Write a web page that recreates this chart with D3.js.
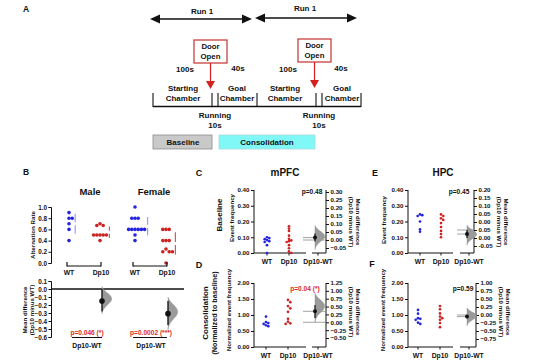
<!DOCTYPE html>
<html><head><meta charset="utf-8">
<script src="https://cdn.jsdelivr.net/npm/d3@7"></script>
<style>
body{margin:0;background:#fff}
svg{display:block}
text{font-family:"Liberation Sans",Arial,Helvetica,sans-serif;font-weight:bold}
</style>
</head><body>
<svg id="c" width="541" height="360"></svg>
<script>
// ---------------- DATA ----------------
// Panel A schematic texts
const runLabels = ["Run 1", "Run 1"];
const timeLabels = ["100s", "40s", "100s", "40s"];
const chamberLabels = [["Starting","Chamber"],["Goal","Chamber"],["Starting","Chamber"],["Goal","Chamber"]];
const runningLabels = ["Running", "10s"];
const phaseLabels = ["Baseline", "Consolidation"];

// Panel B: alternation rate
const sexes = ["Male", "Female"];
const groupNames = ["WT", "Dp10"];
const altMaleWT = [0.9, 0.8, 0.8, 0.7, 0.6, 0.4];
const altMaleDp10 = [0.7, 0.67, 0.67, 0.5, 0.5, 0.5, 0.5, 0.5, 0.4];
const altFemaleWT = [1.0, 0.8, 0.8, 0.8, 0.6, 0.6, 0.6, 0.6, 0.6, 0.6, 0.5, 0.4];
const altFemaleDp10 = [0.6, 0.6, 0.6, 0.4, 0.4, 0.4, 0.25, 0.2, 0.2, 0.2, 0.0];
const altTicks = [0.0, 0.2, 0.4, 0.6, 0.8, 1.0];
const altDiffTicks = [0.1, 0.0, -0.1, -0.2, -0.3, -0.4, -0.5, -0.6];
const altDiffCI = [[-0.28, 0.0], [-0.45, -0.15]];
const altDiffViolin = [[0.03, -0.31], [-0.10, -0.51]];
const altPLabels = ["p=0.046 (*)", "p=0.0002 (***)"];

// Panels C-F: event frequency
const regionTitles = ["mPFC", "HPC"];
const mpfcBaseWT = [0.10, 0.095, 0.088, 0.082, 0.075, 0.07, 0.05, 0.0];
const mpfcBaseDp10 = [0.17, 0.155, 0.14, 0.11, 0.09, 0.08, 0.075, 0.07, 0.05, 0.03, 0.01, 0.0];
const mpfcConsWT = [0.95, 0.78, 0.75, 0.72, 0.68, 0.65];
const mpfcConsDp10 = [1.47, 1.40, 1.28, 1.21, 1.10, 0.88, 0.79, 0.74, 0.72];
const hpcBaseWT = [0.245, 0.24, 0.235, 0.20, 0.15, 0.135];
const hpcBaseDp10 = [0.245, 0.235, 0.22, 0.21, 0.19, 0.165, 0.14, 0.12, 0.10];
const hpcConsWT = [1.16, 1.04, 0.90, 0.88, 0.85, 0.76, 0.72];
const hpcConsDp10 = [1.28, 1.18, 1.05, 0.95, 0.90, 0.85, 0.75, 0.62];

const baseTicks = [0.0, 0.1, 0.2, 0.3, 0.4];
const consTicks = [0.0, 0.5, 1.0, 1.5, 2.0];
const diffTicksC = [0.30, 0.25, 0.20, 0.15, 0.10, 0.05, 0.00, -0.05];
const diffTicksD = [1.25, 1.00, 0.75, 0.50, 0.25, 0.00, -0.25, -0.50];
const diffTicksE = [0.20, 0.15, 0.10, 0.05, 0.00, -0.05, -0.10, -0.15];
const diffLabelsE = ["0.20", "0.15", "0.10", "0.05", "0.00", "0.05", "0.00", "-0.05"];
const diffTicksF = [1.00, 0.75, 0.50, 0.25, 0.00, -0.25, -0.50, -0.75];

const regionDiffEst = [0.015, 0.35, -0.075, -0.05];
const regionDiffCI = [[-0.01, 0.04], [0.14, 0.55], [-0.10, -0.05], [-0.10, 0.0]];
const regionViolin = [[0.09, -0.06], [0.93, 0.0], [-0.02, -0.145], [0.22, -0.34]];
const regionRefLine = [0.0, 0.0, -0.05, 0.0];
const regionPLabels = ["p=0.48", "p=0.04 (*)", "p=0.45", "p=0.59"];

// shared half-violin profile (relative widths, top to bottom)
const violinProfile = [0, 0.12, 0.35, 0.68, 0.92, 1, 0.9, 0.65, 0.38, 0.17, 0.05, 0];

// ---------------- DRAW ----------------
const svg = d3.select("#c");
const BLUE = "#2424e0", RED = "#cc2222", PRED = "#dd2a2a";

function T(x, y, s, size, o = {}) {
  const t = svg.append("text").attr("x", x).attr("y", y).text(s)
    .attr("font-size", size).attr("text-anchor", o.anchor || "middle")
    .attr("dominant-baseline", "central").attr("fill", o.fill || "#111");
  if (o.rot) t.attr("transform", `rotate(${o.rot},${x},${y})`);
  return t;
}
function L(x1, y1, x2, y2, c = "#111", w = 1) {
  return svg.append("line").attr("x1", x1).attr("y1", y1).attr("x2", x2).attr("y2", y2)
    .attr("stroke", c).attr("stroke-width", w);
}

// ===== Panel A =====
const AF = 8;
T(26, 9, "A", 8.5);
const runs = [[150, 252, 19, 202, 11], [255, 357, 18, 305, 8]];
runs.forEach((r, i) => {
  const [x1, x2, y] = r;
  L(x1 + 6, y, x2 - 6, y, "#111", 1.6);
  svg.append("polygon").attr("points", `${x1},${y} ${x1 + 10},${y - 4.5} ${x1 + 10},${y + 4.5}`).attr("fill", "#111");
  svg.append("polygon").attr("points", `${x2},${y} ${x2 - 10},${y - 4.5} ${x2 - 10},${y + 4.5}`).attr("fill", "#111");
  T(r[3], r[4], runLabels[i], AF);
});
const doors = [[194, 40], [298, 39]];
doors.forEach(d => {
  const [x, y] = d, w = 33, h = 23, cx = x + w / 2;
  svg.append("rect").attr("x", x).attr("y", y).attr("width", w).attr("height", h)
    .attr("fill", "#fff").attr("stroke", "#c43030").attr("stroke-width", 1.2);
  T(cx, y + 6.5, "Door", 7.8);
  T(cx, y + 16.5, "Open", 7.8);
  L(cx, y + h, cx, y + 43, "#d42020", 1.2);
  svg.append("polygon").attr("points", `${cx - 4.5},${y + 41} ${cx + 4.5},${y + 41} ${cx},${y + 49}`).attr("fill", "#d42020");
});
[[185, 69], [238, 68], [288, 69], [341, 68]].forEach((p, i) => T(p[0], p[1], timeLabels[i], AF));
[183, 237, 285, 342].forEach((x, i) => {
  T(x, 88, chamberLabels[i][0], AF);
  T(x, 98, chamberLabels[i][1], AF);
});
L(153, 106.5, 361, 106.5, "#111", 1.3);
[153, 212, 218, 257, 316, 322, 361].forEach(x => L(x, 93, x, 107, "#111", 1.1));
[215, 319].forEach(x => { T(x, 115, runningLabels[0], AF); T(x, 125, runningLabels[1], AF); });
svg.append("rect").attr("x", 153).attr("y", 135).attr("width", 59).attr("height", 14)
  .attr("fill", "#c9c9c9").attr("stroke", "#8c8c8c").attr("stroke-width", 0.8);
svg.append("rect").attr("x", 219).attr("y", 135).attr("width", 96).attr("height", 14)
  .attr("fill", "#80f8f8").attr("stroke", "#a8d8d8").attr("stroke-width", 0.8);
T(183, 142, phaseLabels[0], AF);
T(267, 142, phaseLabels[1], AF);

// ===== helpers =====
function swarm(vals, ys, cx, step) {
  const pts = [];
  const sorted = vals.map(v => ({ v, y: ys(v) })).sort((a, b) => a.y - b.y);
  for (const p of sorted) {
    let off = 0;
    for (let k = 0; k < 40; k++) {
      const o = k === 0 ? 0 : (k % 2 ? 1 : -1) * Math.ceil(k / 2) * step;
      if (pts.every(q => (q.x - (cx + o)) ** 2 + (q.y - p.y) ** 2 >= (step * 0.99) ** 2)) { off = o; break; }
    }
    pts.push({ x: cx + off, y: p.y, v: p.v });
  }
  return pts;
}
function styleAxis(g, size) {
  g.selectAll("text").attr("font-size", size).attr("font-weight", "bold").attr("fill", "#111")
    .attr("font-family", '"Liberation Sans",Arial,sans-serif');
  g.selectAll("line").attr("stroke", "#111");
  g.selectAll("path").attr("stroke", "#111");
}
function violin(x, yTop, yBot, maxW) {
  const n = violinProfile.length;
  const sy = d3.scaleLinear([0, n - 1], [yTop, yBot]);
  const area = d3.area().x0(x).x1((d) => x + d * maxW).y((d, i) => sy(i)).curve(d3.curveBasis);
  svg.append("path").attr("d", area(violinProfile)).attr("fill", "#9a9a9a").attr("stroke", "#8a8a8a").attr("stroke-width", 0.4);
}
const mean = a => d3.mean(a);

// ===== Panel B =====
T(26, 172, "B", 8.5);
const ysB = d3.scaleLinear([0, 1], [263, 207]);
const gB = svg.append("g").attr("transform", "translate(51,0)")
  .call(d3.axisLeft(ysB).tickValues(altTicks).tickFormat(d3.format(".1f")).tickSize(2.5).tickPadding(1.5));
styleAxis(gB, 6.3);
T(32, 235, "Alternation Rate", 6.2, { rot: -90 });
const bData = [[altMaleWT, altMaleDp10], [altFemaleWT, altFemaleDp10]];
const bX = [[69, 100], [135, 166]];
const titleX = [90, 154];
const diffsB = [];
sexes.forEach((s, si) => {
  T(titleX[si], 191, s, 9.5);
  bData[si].forEach((vals, gi) => {
    const cx = bX[si][gi];
    const pts = swarm(vals, ysB, cx, 3.2);
    svg.append("g").selectAll("circle").data(pts).join("circle")
      .attr("cx", d => d.x).attr("cy", d => d.y).attr("r", 1.8)
      .attr("fill", gi === 0 ? BLUE : RED);
    const m = mean(vals), sd = d3.deviation(vals);
    const sx = d3.max(pts, d => d.x) + 3;
    const col = gi === 0 ? "#9d9df2" : "#e05555";
    L(sx, ysB(m + sd), sx, ysB(m) - 1.5, col, 1.2);
    L(sx, ysB(m) + 1.5, sx, ysB(m - sd), col, 1.2);
    T(cx + (gi === 0 ? 0 : 1), 272.5, groupNames[gi], 6.8);
  });
  const x1 = bX[si][0] - 2, x2 = bX[si][1] + 1;
  L(x1, 266, x2, 266, "#111", 1.2);
  L(x1, 262, x1, 266.5, "#111", 1.2);
  L(x2, 262, x2, 266.5, "#111", 1.2);
  diffsB.push(mean(bData[si][1]) - mean(bData[si][0]));
});
// lower B: mean difference
const ydB = d3.scaleLinear([-0.6, 0.1], [337, 281]);
const gB2 = svg.append("g").attr("transform", "translate(51,0)")
  .call(d3.axisLeft(ydB).tickValues(altDiffTicks).tickFormat(d3.format(".1f")).tickSize(2.5).tickPadding(1.5));
styleAxis(gB2, 6.3);
T(24, 310, "Mean difference", 6.2, { rot: -90 });
T(31, 310, "(Dp10 minus WT)", 6.2, { rot: -90 });
L(51, ydB(0), 184, ydB(0), "#111", 1.4);
const bPX = [102, 168], bLblX = [87, 151], bAxis = [[72, 102], [133, 167]];
sexes.forEach((s, si) => {
  const x = bPX[si];
  violin(x, ydB(altDiffViolin[si][0]), ydB(altDiffViolin[si][1]), 10);
  L(x, ydB(altDiffCI[si][1]), x, ydB(altDiffCI[si][0]), "#111", 1.3);
  svg.append("circle").attr("cx", x).attr("cy", ydB(diffsB[si])).attr("r", 2.8).attr("fill", "#111");
  T(bLblX[si], 332, altPLabels[si], 6.6, { fill: PRED });
  L(bAxis[si][0], 337.5, bAxis[si][1], 337.5, "#111", 1);
  T(bLblX[si], 345, "Dp10-WT", 6.8);
});

// ===== Panels C-F =====
function drawRegion(p) {
  const yl = d3.scaleLinear([0, p.leftMax], [p.y0, p.yTop]);
  const ga = svg.append("g").attr("transform", `translate(${p.ax},0)`)
    .call(d3.axisLeft(yl).tickValues(p.leftTicks).tickFormat(d3.format(".2f")).tickSize(3).tickPadding(1.5));
  styleAxis(ga, 6.2);
  ga.select(".domain").attr("d", `M0,${p.yTop}V${p.y0}`);
  // x axis
  L(p.ax, p.y0, p.xEnd, p.y0, "#111", 1);
  [p.wtX, p.dpX].forEach((x, i) => {
    L(x, p.y0, x, p.y0 + 2.5, "#111", 1);
    T(x, p.y0 + 8.5, groupNames[i], 6.8);
  });
  // dots
  [p.wt, p.dp].forEach((vals, gi) => {
    const pts = swarm(vals, yl, gi === 0 ? p.wtX : p.dpX, 2.3);
    svg.append("g").selectAll("circle").data(pts).join("circle")
      .attr("cx", d => d.x).attr("cy", d => d.y).attr("r", 1.35)
      .attr("fill", gi === 0 ? BLUE : RED);
  });
  // difference axis
  const yr = d3.scaleLinear([p.rTicks[p.rTicks.length - 1], p.rTicks[0]], p.rRange);
  const gr = svg.append("g").attr("transform", `translate(${p.rx},0)`)
    .call(d3.axisRight(yr).tickValues(p.rTicks).tickFormat((d, i) => p.rLabels ? p.rLabels[i] : d3.format(".2f")(d)).tickSize(3).tickPadding(1.5));
  styleAxis(gr, 6.2);
  gr.select(".domain").attr("d", `M0,${p.yTop}V${p.y0}`);
  L(p.dxStart, p.y0, p.rx, p.y0, "#111", 1);
  L(p.dLabelX, p.y0, p.dLabelX, p.y0 + 2.5, "#111", 1);
  T(p.dLabelX, p.y0 + 8.5, "Dp10-WT", 6.8);
  // reference lines
  L(p.refX0, yr(p.ref), p.rx, yr(p.ref), "#8a8a8a", 0.8);
  L(p.refX0, yr(p.est), p.rx, yr(p.est), "#8a8a8a", 0.8);
  violin(p.px, yr(p.vio[0]), yr(p.vio[1]), 10);
  L(p.px, yr(p.ci[1]), p.px, yr(p.ci[0]), "#111", 1.2);
  svg.append("circle").attr("cx", p.px).attr("cy", yr(p.est)).attr("r", 2).attr("fill", "#111");
  T(p.pX, p.pY, p.pLabel, 6.6, { fill: p.pRed ? PRED : "#111" });
  // labels
  T(p.rlx, p.lcy, "Mean difference", 6.2, { rot: 90 });
  T(p.rlx - 7, p.lcy, "(Dp10 minus WT)", 6.2, { rot: 90 });
}
T(199, 173, "C", 9);
T(285, 172, regionTitles[0], 10);
T(375, 173, "E", 9);
T(443, 172, regionTitles[1], 10);
T(199, 265, "D", 9);
T(372, 264, "F", 9);
T(219, 215, "Baseline", 8, { rot: -90 });
T(231, 218, "Event frequency", 6.2, { rot: -90 });
T(205, 313, "Consolidation", 8, { rot: -90 });
T(214, 313, "(Normalized to baseline)", 7.2, { rot: -90 });
T(228, 310, "Normalized event frequency", 6.2, { rot: -90 });
T(383, 220, "Event frequency", 6.2, { rot: -90 });
T(382, 310, "Normalized event frequency", 6.2, { rot: -90 });

drawRegion({ wt: mpfcBaseWT, dp: mpfcBaseDp10, ax: 254, y0: 253, yTop: 190, leftMax: 0.4, leftTicks: baseTicks,
  wtX: 267, dpX: 289, xEnd: 306, dxStart: 312, dLabelX: 318, rx: 326, px: 315, refX0: 303,
  rTicks: diffTicksC, rRange: [248, 192], est: regionDiffEst[0], ci: regionDiffCI[0], vio: regionViolin[0], ref: regionRefLine[0],
  pLabel: regionPLabels[0], pRed: false, pX: 312, pY: 191, rlx: 358, lcy: 222 });
drawRegion({ wt: mpfcConsWT, dp: mpfcConsDp10, ax: 254, y0: 347, yTop: 283, leftMax: 2, leftTicks: consTicks,
  wtX: 266, dpX: 288, xEnd: 306, dxStart: 312, dLabelX: 318, rx: 326, px: 315, refX0: 303,
  rTicks: diffTicksD, rRange: [338, 283], est: regionDiffEst[1], ci: regionDiffCI[1], vio: regionViolin[1], ref: regionRefLine[1],
  pLabel: regionPLabels[1], pRed: true, pX: 305, pY: 288, rlx: 358, lcy: 312 });
drawRegion({ wt: hpcBaseWT, dp: hpcBaseDp10, ax: 408, y0: 253, yTop: 190, leftMax: 0.4, leftTicks: baseTicks,
  wtX: 420, dpX: 441, xEnd: 453, dxStart: 460, dLabelX: 469, rx: 474, px: 467, refX0: 457,
  rTicks: diffTicksE, rLabels: diffLabelsE, rRange: [246, 190], est: regionDiffEst[2], ci: regionDiffCI[2], vio: regionViolin[2], ref: regionRefLine[2],
  pLabel: regionPLabels[2], pRed: false, pX: 459, pY: 191, rlx: 506, lcy: 222 });
drawRegion({ wt: hpcConsWT, dp: hpcConsDp10, ax: 408, y0: 347, yTop: 283, leftMax: 2, leftTicks: consTicks,
  wtX: 418, dpX: 440, xEnd: 453, dxStart: 460, dLabelX: 469, rx: 476, px: 467, refX0: 457,
  rTicks: diffTicksF, rRange: [339, 283], est: regionDiffEst[3], ci: regionDiffCI[3], vio: regionViolin[3], ref: regionRefLine[3],
  pLabel: regionPLabels[3], pRed: false, pX: 463, pY: 288, rlx: 508, lcy: 312 });
</script>
</body></html>
